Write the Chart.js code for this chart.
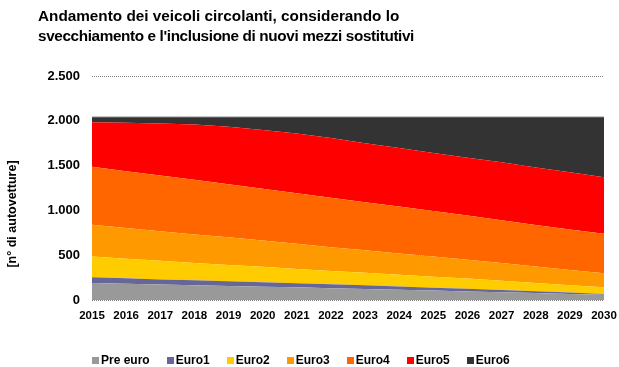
<!DOCTYPE html>
<html lang="it">
<head>
<meta charset="utf-8">
<script src="https://cdn.jsdelivr.net/npm/chart.js@4/dist/chart.umd.min.js"></script>
<style>
  html, body { margin: 0; padding: 0; background: #ffffff; }
  #wrap { position: relative; width: 619px; height: 367px; overflow: hidden; font-family: "Liberation Sans", Arial, sans-serif; }
  #chart { position: absolute; left: 0; top: 0; }
  #title { position: absolute; left: 38px; top: 6px; font-weight: bold; font-size: 15.3px; line-height: 20px; color: #000; white-space: nowrap; }
  #title .l2 { letter-spacing: -0.37px; }
  #legend { position: absolute; left: 92px; top: 353px; display: flex; align-items: center; font-weight: bold; font-size: 12px; color: #000; white-space: nowrap; }
  #legend .item { display: flex; align-items: center; margin-right: 17px; }
  #legend .box { width: 7px; height: 7px; margin-right: 2px; }
</style>
</head>
<body>
<div id="wrap">
  <canvas id="chart" width="619" height="367"></canvas>
  <div id="title"><span>Andamento dei veicoli circolanti, considerando lo</span><br><span class="l2">svecchiamento e l'inclusione di nuovi mezzi sostitutivi</span></div>
  <div id="legend"></div>
</div>
<script>
// Anni di riferimento
const years = ['2015','2016','2017','2018','2019','2020','2021','2022','2023','2024','2025','2026','2027','2028','2029','2030'];

// Numero di autovetture per classe emissiva
const preEuro = [190,181,172,165,157,149,141,132,123,114,105,96,87,78,68,59];
const euro1   = [64,61,58,55,53,50,47,44,41,37,33,29,25,20,15,9];
const euro2   = [231,219,208,194,182,171,159,149,139,131,121,114,103,91,83,74];
const euro3   = [355,343,330,318,307,295,282,265,251,238,227,211,197,184,170,157];
const euro4   = [646,634,622,611,593,577,563,551,538,523,506,492,477,464,451,440];
const euro5   = [499,541,581,617,642,654,667,667,658,654,650,646,649,643,639,631];
const euro6   = [60,66,74,85,111,149,186,237,295,348,403,457,507,565,619,675];

// Etichette asse Y
const yTickValues = [0, 500, 1000, 1500, 2000, 2500];
const yTickLabels = ['0', '500', '1.000', '1.500', '2.000', '2.500'];

const seriesNames  = ['Pre euro', 'Euro1', 'Euro2', 'Euro3', 'Euro4', 'Euro5', 'Euro6'];
const seriesValues = [preEuro, euro1, euro2, euro3, euro4, euro5, euro6];
const seriesColors = ['#999999', '#666699', '#FFCC00', '#FF9900', '#FF6600', '#FF0000', '#333333'];

const datasets = seriesNames.map((name, i) => ({
  label: name,
  data: seriesValues[i],
  backgroundColor: seriesColors[i],
  borderColor: i === 6 ? '#c8c8c8' : seriesColors[i],
  borderWidth: i === 6 ? 1 : 0,
  pointRadius: 0,
  pointHoverRadius: 0,
  tension: 0,
  fill: i === 0 ? 'origin' : '-1'
}));

// Legenda
const legend = document.getElementById('legend');
seriesNames.forEach((name, i) => {
  const item = document.createElement('div');
  item.className = 'item';
  const box = document.createElement('span');
  box.className = 'box';
  box.style.background = seriesColors[i];
  const txt = document.createElement('span');
  txt.textContent = name;
  item.appendChild(box);
  item.appendChild(txt);
  legend.appendChild(item);
});

// Titolo asse Y
const yTitlePlugin = {
  id: 'yTitle',
  afterDraw(chart) {
    const ctx = chart.ctx;
    ctx.save();
    ctx.translate(13, 214);
    ctx.rotate(-Math.PI / 2);
    ctx.font = 'bold 12.5px "Liberation Sans", Arial, sans-serif';
    ctx.fillStyle = '#000';
    ctx.textAlign = 'center';
    ctx.textBaseline = 'middle';
    ctx.fillText('[n° di autovetture]', 0, 0);
    ctx.restore();
  }
};

new Chart(document.getElementById('chart'), {
  type: 'line',
  data: { labels: years, datasets },
  options: {
    responsive: false,
    animation: false,
    layout: { padding: { left: 0, right: 15, top: 76, bottom: 0 } },
    plugins: {
      legend: { display: false },
      title: { display: false },
      tooltip: { enabled: false }
    },
    scales: {
      x: {
        offset: false,
        grid: { display: false, drawTicks: false },
        border: { display: false },
        ticks: {
          color: '#000',
          font: { family: '"Liberation Sans", Arial, sans-serif', size: 11.5, weight: 'bold' },
          padding: 9,
          maxRotation: 0,
          autoSkip: false
        },
        afterFit(scale) {
          scale.height = 67;
          scale.paddingLeft = 0;
          scale.paddingRight = 0;
        }
      },
      y: {
        stacked: true,
        min: 0,
        max: 2500,
        afterBuildTicks(scale) { scale.ticks = yTickValues.map(v => ({ value: v })); },
        grid: {
          color: '#808080',
          lineWidth: 1,
          drawTicks: false
        },
        border: { display: false, dash: [1, 1] },
        ticks: {
          color: '#000',
          font: { family: '"Liberation Sans", Arial, sans-serif', size: 13, weight: 'bold' },
          padding: 12,
          callback(value) {
            const idx = yTickValues.indexOf(value);
            return idx >= 0 ? yTickLabels[idx] : '';
          }
        },
        afterFit(scale) {
          scale.width = 92;
          scale.paddingTop = 0;
          scale.paddingBottom = 0;
        }
      }
    }
  },
  plugins: [yTitlePlugin]
});
</script>
</body>
</html>
